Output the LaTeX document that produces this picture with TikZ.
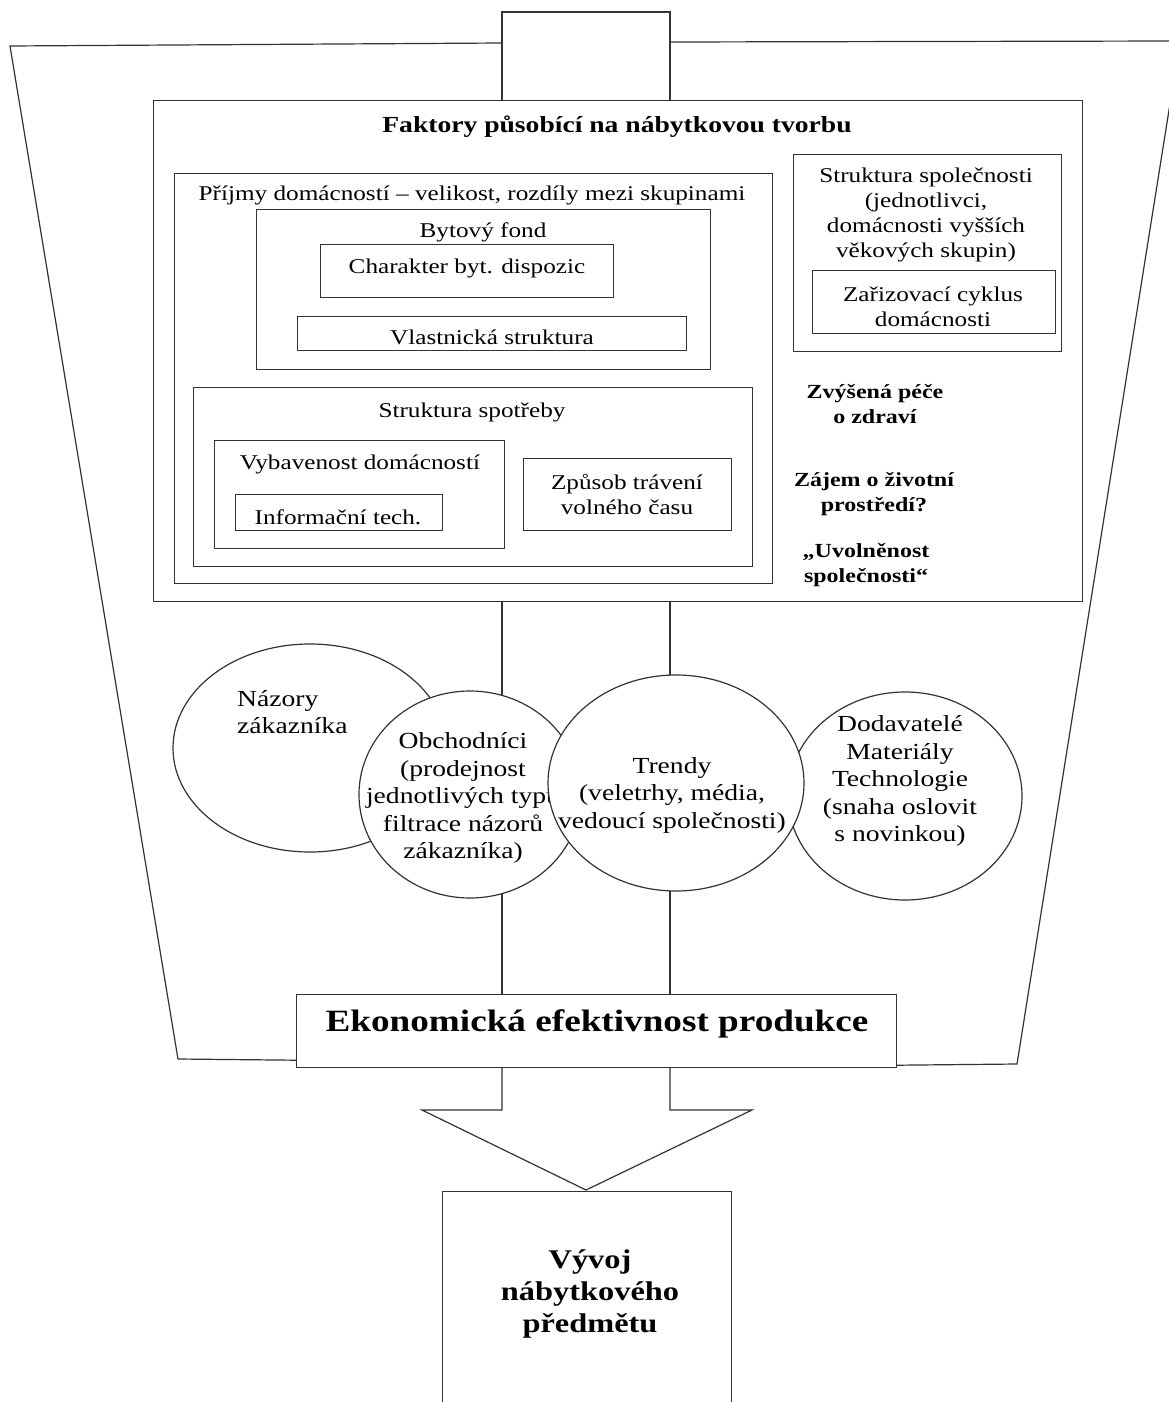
\documentclass[tikz,border=0pt]{standalone}
\usepackage{fontspec}
\setmainfont{Liberation Serif}[FakeStretch=1.2]
\usetikzlibrary{shapes.geometric}
\begin{document}
\begin{tikzpicture}[x=1pt,y=-1pt,
  ln/.style={draw=black!80, line width=1.2pt},
  bx/.style={ln, fill=white, rectangle, inner sep=0pt, anchor=north west},
  ell/.style={ln, fill=white, ellipse, inner sep=0pt},
  rg/.style={font=\fontsize{21}{25}\selectfont, align=center, inner sep=0pt, yshift=-2pt},
  bd/.style={font=\fontsize{20}{25}\selectfont\bfseries, align=center, inner sep=0pt, yshift=-2pt},
  et/.style={font=\fontsize{23}{27.5}\selectfont, align=center, inner sep=0pt, yshift=-1pt}]
\useasboundingbox (0,0) rectangle (1168,1402);
\fill[white] (0,0) rectangle (1168,1402);

% coordinates
\coordinate (fTL) at (10,46);
\coordinate (fBL) at (178,1059);
\coordinate (fBR) at (1017,1064);
\coordinate (fTR) at (1180,41);
\coordinate (fjL) at (502,43);
\coordinate (fjR) at (670,42);
\coordinate (tubeTL) at (502,12);
\coordinate (tubeTR) at (670,12);
\coordinate (aL) at (422,1110);
\coordinate (aR) at (752,1110);
\coordinate (aTip) at (586,1190);

% economic box (defined early)
\node[bx, minimum width=600, minimum height=73] (eko) at (296,994) {};

% funnel
\draw[ln] (fjL) -- (fTL) -- (fBL) -- ([yshift=8pt]eko.south west);
\draw[ln] (fjR) -- (fTR) -- (fBR) -- ([yshift=3pt]eko.south east);

% main box
\node[bx, minimum width=929, minimum height=501] (main) at (153,100) {};
% top tube
\draw[ln] (main.north -| tubeTL) -- (tubeTL) -- (tubeTR) -- (main.north -| tubeTR);
% tube through ellipses
\draw[ln] (main.south -| tubeTL) -- (eko.north -| tubeTL);
\draw[ln] (main.south -| tubeTR) -- (eko.north -| tubeTR);

\node[rg, font=\fontsize{23}{27}\selectfont\bfseries] (tfak) at (617,125) {Faktory působící na nábytkovou tvorbu};

% left group
\node[bx, minimum width=598, minimum height=410] (prij) at (174,173) {};
\node[rg] (tprij) at (472,193) {Příjmy domácností – velikost, rozdíly mezi skupinami};
\node[bx, minimum width=454, minimum height=160] (byt) at (256,209) {};
\node[rg] (tbyt) at (483,230) {Bytový fond};
\node[bx, minimum width=293, minimum height=53] (char) at (320,244) {};
\node[rg] (tchar) at (467,266) {Charakter byt. dispozic};
\node[bx, minimum width=389, minimum height=34] (vlas) at (297,316) {};
\node[rg] (tvlas) at (492,335) {Vlastnická struktura};

\node[bx, minimum width=559, minimum height=179] (spot) at (193,387) {};
\node[rg] (tspot) at (472,410) {Struktura spotřeby};
\node[bx, minimum width=290, minimum height=108] (vyb) at (214,440) {};
\node[rg] (tvyb) at (360,462) {Vybavenost domácností};
\node[bx, minimum width=207, minimum height=36] (inf) at (235,494) {};
\node[rg] (tinf) at (338,515) {Informační tech.};
\node[bx, minimum width=208, minimum height=72] (zpu) at (523,458) {};
\node[rg] (tzpu) at (627,492) {Způsob trávení\\volného času};

% right group
\node[bx, minimum width=268, minimum height=197] (spol) at (793,154) {};
\node[rg] (tspol) at (926,213) {Struktura společnosti\\(jednotlivci,\\domácnosti vyšších\\věkových skupin)};
\node[bx, minimum width=243, minimum height=63] (zar) at (812,270) {};
\node[rg] (tzar) at (933,305) {Zařizovací cyklus\\domácnosti};

\node[bd] (tzdr) at (875,402) {Zvýšená péče\\o zdraví};
\node[bd] (tziv) at (874,492) {Zájem o životní\\prostředí?};
\node[bd] (tuvo) at (866,563) {„Uvolněnost\\společnosti“};

% ellipses
\node[ell, minimum width=274, minimum height=208] (naz) at (310,748) {};
\node[et, align=left, anchor=west] (tnaz) at (237,711) {Názory\\zákazníka};
\node[ell, minimum width=222, minimum height=207] (obch) at (470,794.5) {};
\node[et] (tobch) at (463,797) {Obchodníci\\(prodejnost\\jednotlivých typů\\filtrace názorů\\zákazníka)};
\node[ell, minimum width=234, minimum height=208] (dod) at (905,796) {};
\node[et] (tdod) at (900,780) {Dodavatelé\\Materiály\\Technologie\\(snaha oslovit\\s novinkou)};
\node[ell, minimum width=256, minimum height=216] (tre) at (676,783) {};
\node[et] (ttre) at (672,794) {Trendy\\(veletrhy, média,\\vedoucí společnosti)};

% economic text
\node[rg, font=\fontsize{31}{36}\selectfont\bfseries] (teko) at (597,1022) {Ekonomická efektivnost produkce};

% arrow
\draw[ln] (eko.south -| tubeTL) -- (tubeTL |- aL) -- (aL) -- (aTip) -- (aR) -- (tubeTR |- aR) -- (eko.south -| tubeTR);

% bottom box
\node[bx, minimum width=289, minimum height=240] (vyv) at (442,1191) {};
\node[rg, font=\fontsize{27}{32}\selectfont\bfseries] (tvyv) at (590,1292) {Vývoj\\nábytkového\\předmětu};
\end{tikzpicture}
\end{document}
